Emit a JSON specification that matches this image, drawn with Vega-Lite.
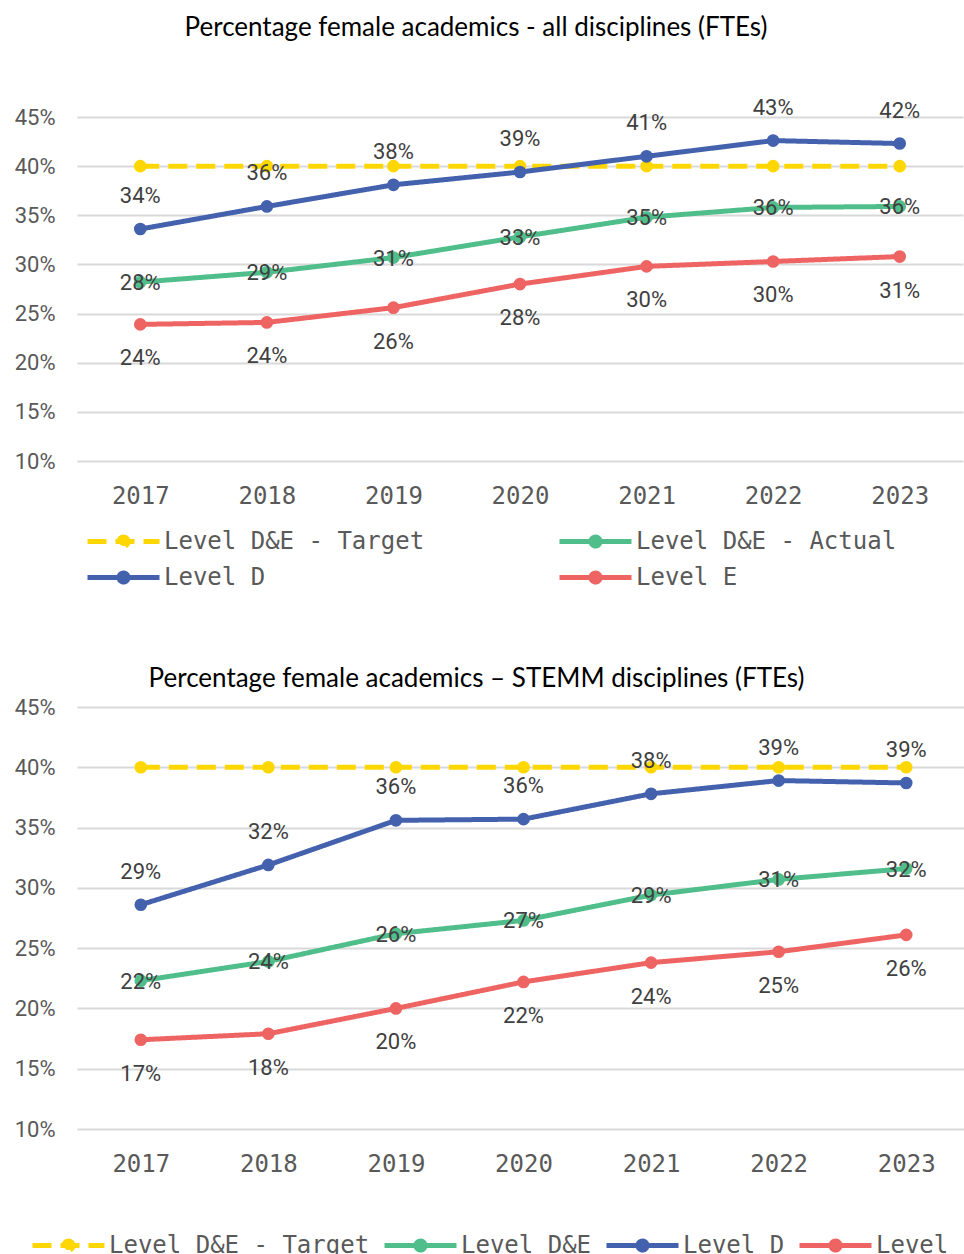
{
  "$schema": "https://vega.github.io/schema/vega-lite/v6.json",
  "background": "white",
  "padding": {"left": 14, "top": 14, "right": 0, "bottom": 0},
  "datasets": {
    "top": [
      {"year": "2017", "series": "Level D&E - Target", "value": 0.40},
      {"year": "2018", "series": "Level D&E - Target", "value": 0.40},
      {"year": "2019", "series": "Level D&E - Target", "value": 0.40},
      {"year": "2020", "series": "Level D&E - Target", "value": 0.40},
      {"year": "2021", "series": "Level D&E - Target", "value": 0.40},
      {"year": "2022", "series": "Level D&E - Target", "value": 0.40},
      {"year": "2023", "series": "Level D&E - Target", "value": 0.40},
      {"year": "2017", "series": "Level D&E - Actual", "value": 0.282},
      {"year": "2018", "series": "Level D&E - Actual", "value": 0.292},
      {"year": "2019", "series": "Level D&E - Actual", "value": 0.307},
      {"year": "2020", "series": "Level D&E - Actual", "value": 0.328},
      {"year": "2021", "series": "Level D&E - Actual", "value": 0.348},
      {"year": "2022", "series": "Level D&E - Actual", "value": 0.358},
      {"year": "2023", "series": "Level D&E - Actual", "value": 0.359},
      {"year": "2017", "series": "Level D", "value": 0.336},
      {"year": "2018", "series": "Level D", "value": 0.359},
      {"year": "2019", "series": "Level D", "value": 0.381},
      {"year": "2020", "series": "Level D", "value": 0.394},
      {"year": "2021", "series": "Level D", "value": 0.410},
      {"year": "2022", "series": "Level D", "value": 0.426},
      {"year": "2023", "series": "Level D", "value": 0.423},
      {"year": "2017", "series": "Level E", "value": 0.239},
      {"year": "2018", "series": "Level E", "value": 0.241},
      {"year": "2019", "series": "Level E", "value": 0.256},
      {"year": "2020", "series": "Level E", "value": 0.280},
      {"year": "2021", "series": "Level E", "value": 0.298},
      {"year": "2022", "series": "Level E", "value": 0.303},
      {"year": "2023", "series": "Level E", "value": 0.308}
    ],
    "bottom": [
      {"year": "2017", "series": "Level D&E - Target", "value": 0.40},
      {"year": "2018", "series": "Level D&E - Target", "value": 0.40},
      {"year": "2019", "series": "Level D&E - Target", "value": 0.40},
      {"year": "2020", "series": "Level D&E - Target", "value": 0.40},
      {"year": "2021", "series": "Level D&E - Target", "value": 0.40},
      {"year": "2022", "series": "Level D&E - Target", "value": 0.40},
      {"year": "2023", "series": "Level D&E - Target", "value": 0.40},
      {"year": "2017", "series": "Level D&E", "value": 0.223},
      {"year": "2018", "series": "Level D&E", "value": 0.239},
      {"year": "2019", "series": "Level D&E", "value": 0.262},
      {"year": "2020", "series": "Level D&E", "value": 0.273},
      {"year": "2021", "series": "Level D&E", "value": 0.294},
      {"year": "2022", "series": "Level D&E", "value": 0.307},
      {"year": "2023", "series": "Level D&E", "value": 0.316},
      {"year": "2017", "series": "Level D", "value": 0.286},
      {"year": "2018", "series": "Level D", "value": 0.319},
      {"year": "2019", "series": "Level D", "value": 0.356},
      {"year": "2020", "series": "Level D", "value": 0.357},
      {"year": "2021", "series": "Level D", "value": 0.378},
      {"year": "2022", "series": "Level D", "value": 0.389},
      {"year": "2023", "series": "Level D", "value": 0.387},
      {"year": "2017", "series": "Level E", "value": 0.174},
      {"year": "2018", "series": "Level E", "value": 0.179},
      {"year": "2019", "series": "Level E", "value": 0.200},
      {"year": "2020", "series": "Level E", "value": 0.222},
      {"year": "2021", "series": "Level E", "value": 0.238},
      {"year": "2022", "series": "Level E", "value": 0.247},
      {"year": "2023", "series": "Level E", "value": 0.261}
    ]
  },
  "config": {
    "view": {"stroke": null},
    "axisX": {
      "labelFont": "DejaVu Sans Mono", "labelFontSize": 24, "labelColor": "#595959",
      "ticks": false, "tickSize": 0, "domain": false, "grid": false, "labelPadding": 23,
      "labelAngle": 0, "title": null
    },
    "axisY": {
      "labelFont": "Roboto", "labelFontSize": 22, "labelColor": "#595959",
      "ticks": false, "tickSize": 0, "domain": false, "grid": true, "gridColor": "#D9D9D9",
      "gridWidth": 2, "labelPadding": 22, "title": null
    },
    "legend": {
      "title": null,
      "labelFont": "DejaVu Sans Mono", "labelFontSize": 24, "labelColor": "#595959",
      "labelLimit": 1000, "labelOffset": 50,
      "symbolType": "M-1,0H5M1.625,0A0.375,0.375,0,1,1,2.375,0A0.375,0.375,0,1,1,1.625,0Z",
      "symbolSize": 576, "symbolStrokeWidth": 5, "symbolOpacity": 1
    },
    "title": {"font": "Lato", "fontSize": 26, "fontWeight": "normal", "color": "#000000", "frame": "group", "anchor": "middle"}
  },
  "spacing": 66,
  "resolve": {
    "scale": {"stroke": "independent", "fill": "independent", "strokeDash": "independent"},
    "legend": {"stroke": "independent", "fill": "independent", "strokeDash": "independent"}
  },
  "vconcat": [
    {
      "title": {"text": "Percentage female academics - all disciplines (FTEs)", "offset": 56, "dx": -44},
      "width": 886,
      "height": 344,
      "data": {"name": "top"},
      "encoding": {
        "x": {"field": "year", "type": "ordinal", "scale": {"type": "point", "padding": 0.5}},
        "y": {"field": "value", "type": "quantitative", "scale": {"domain": [0.1, 0.45], "nice": false, "zero": false},
              "axis": {"values": [0.1, 0.15, 0.2, 0.25, 0.3, 0.35, 0.4, 0.45], "format": ".0%"}}
      },
      "layer": [
        {
          "mark": {"type": "line", "strokeWidth": 5},
          "encoding": {
            "stroke": {"field": "series", "type": "nominal",
              "scale": {"domain": ["Level D&E - Target", "Level D&E - Actual", "Level D", "Level E"], "range": ["#FFD700", "#50BE8A", "#4461AD", "#EE6462"]},
              "legend": {"orient": "bottom", "columns": 2, "columnPadding": 124, "rowPadding": 7, "padding": 8, "offset": 11}},
            "strokeDash": {"field": "series", "type": "nominal",
              "scale": {"domain": ["Level D&E - Target", "Level D&E - Actual", "Level D", "Level E"], "range": [[19, 9], [1, 0], [1, 0], [1, 0]]},
              "legend": {"orient": "bottom", "columns": 2, "columnPadding": 124, "rowPadding": 7, "padding": 8, "offset": 11}}
          }
        },
        {
          "mark": {"type": "point", "filled": true, "size": 160, "opacity": 1},
          "encoding": {
            "fill": {"field": "series", "type": "nominal",
              "scale": {"domain": ["Level D&E - Target", "Level D&E - Actual", "Level D", "Level E"], "range": ["#FFD700", "#50BE8A", "#4461AD", "#EE6462"]},
              "legend": {"orient": "bottom", "columns": 2, "columnPadding": 124, "rowPadding": 7, "padding": 8, "offset": 11}}
          }
        },
        {
          "transform": [{"filter": {"field": "series", "equal": "Level D"}}],
          "mark": {"type": "text", "dy": -33, "font": "Roboto", "fontSize": 22, "color": "#404040"},
          "encoding": {"text": {"field": "value", "type": "quantitative", "format": ".0%"}}
        },
        {
          "transform": [{"filter": {"field": "series", "equal": "Level D&E - Actual"}}],
          "mark": {"type": "text", "dy": 1, "font": "Roboto", "fontSize": 22, "color": "#404040"},
          "encoding": {"text": {"field": "value", "type": "quantitative", "format": ".0%"}}
        },
        {
          "transform": [{"filter": {"field": "series", "equal": "Level E"}}],
          "mark": {"type": "text", "dy": 34, "font": "Roboto", "fontSize": 22, "color": "#404040"},
          "encoding": {"text": {"field": "value", "type": "quantitative", "format": ".0%"}}
        }
      ]
    },
    {
      "title": {"text": "Percentage female academics – STEMM disciplines (FTEs)", "offset": 4, "dx": -47},
      "width": 893,
      "height": 422,
      "data": {"name": "bottom"},
      "encoding": {
        "x": {"field": "year", "type": "ordinal", "scale": {"type": "point", "padding": 0.5}},
        "y": {"field": "value", "type": "quantitative", "scale": {"domain": [0.1, 0.45], "nice": false, "zero": false},
              "axis": {"values": [0.1, 0.15, 0.2, 0.25, 0.3, 0.35, 0.4, 0.45], "format": ".0%"}}
      },
      "layer": [
        {
          "mark": {"type": "line", "strokeWidth": 5},
          "encoding": {
            "stroke": {"field": "series", "type": "nominal",
              "scale": {"domain": ["Level D&E - Target", "Level D&E", "Level D", "Level E"], "range": ["#FFD700", "#50BE8A", "#4461AD", "#EE6462"]},
              "legend": {"orient": "none", "legendX": -47, "legendY": 524, "columns": 4, "columnPadding": 4}},
            "strokeDash": {"field": "series", "type": "nominal",
              "scale": {"domain": ["Level D&E - Target", "Level D&E", "Level D", "Level E"], "range": [[19, 9], [1, 0], [1, 0], [1, 0]]},
              "legend": {"orient": "none", "legendX": -47, "legendY": 524, "columns": 4, "columnPadding": 4}}
          }
        },
        {
          "mark": {"type": "point", "filled": true, "size": 160, "opacity": 1},
          "encoding": {
            "fill": {"field": "series", "type": "nominal",
              "scale": {"domain": ["Level D&E - Target", "Level D&E", "Level D", "Level E"], "range": ["#FFD700", "#50BE8A", "#4461AD", "#EE6462"]},
              "legend": {"orient": "none", "legendX": -47, "legendY": 524, "columns": 4, "columnPadding": 4}}
          }
        },
        {
          "transform": [{"filter": {"field": "series", "equal": "Level D"}}],
          "mark": {"type": "text", "dy": -33, "font": "Roboto", "fontSize": 22, "color": "#404040"},
          "encoding": {"text": {"field": "value", "type": "quantitative", "format": ".0%"}}
        },
        {
          "transform": [{"filter": {"field": "series", "equal": "Level D&E"}}],
          "mark": {"type": "text", "dy": 1, "font": "Roboto", "fontSize": 22, "color": "#404040"},
          "encoding": {"text": {"field": "value", "type": "quantitative", "format": ".0%"}}
        },
        {
          "transform": [{"filter": {"field": "series", "equal": "Level E"}}],
          "mark": {"type": "text", "dy": 34, "font": "Roboto", "fontSize": 22, "color": "#404040"},
          "encoding": {"text": {"field": "value", "type": "quantitative", "format": ".0%"}}
        }
      ]
    }
  ]
}
